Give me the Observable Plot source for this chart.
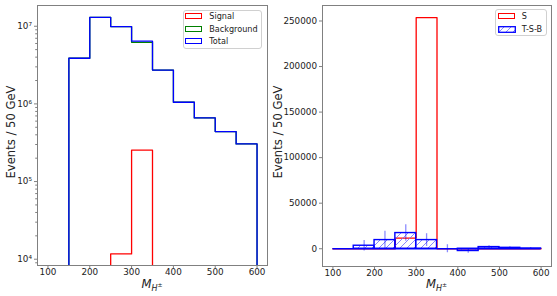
<!DOCTYPE html>
<html>
<head>
<meta charset="utf-8">
<script src="https://cdn.jsdelivr.net/npm/d3@7"></script>
<script src="https://cdn.jsdelivr.net/npm/@observablehq/plot@0.6"></script>
<style>
  html, body { margin: 0; padding: 0; background: #fff; }
  #wrap { position: relative; width: 557px; height: 296px; font-family: "DejaVu Sans", sans-serif; color: #222; overflow: hidden; }
  #wrap svg.plot { position: absolute; top: 0; overflow: visible; }
  .lg { position: absolute; border: 1px solid #d0d0d0; border-radius: 3px; background: rgba(255,255,255,0.85); box-sizing: border-box; }
  .patch { position: absolute; box-sizing: border-box; height: 6px; width: 17px; border-width: 1.3px; border-style: solid; }
  .lt { position: absolute; font-size: 8.1px; line-height: 10px; white-space: nowrap; }
  .xl { position: absolute; font-size: 11.6px; white-space: nowrap; transform: translate(-50%, -50%); }
  .yl { position: absolute; font-size: 11.6px; white-space: nowrap; transform: translate(-50%, -50%) rotate(-90deg); }
</style>
</head>
<body>
<svg width="0" height="0" style="position:absolute">
  <defs>
    <pattern id="hatch" patternUnits="userSpaceOnUse" width="7" height="7">
      <path d="M-1,1 l2,-2 M0,7 l7,-7 M6,8 l2,-2" stroke="#6b6bff" stroke-width="0.8"/>
    </pattern>
  </defs>
</svg>
<div id="wrap"></div>
<script>
// ---- data ----
const edges = [100, 150, 200, 250, 300, 350, 400, 450, 500, 550, 600];
const signal = [0, 0, 0, 11700, 253700, 0, 0, 0, 0, 0];
const background = [0, 3870000, 13000000, 9900000, 6200000, 2730000, 1050000, 660000, 440000, 305000];
const total = [0, 3870000, 13000000, 9910000, 6450000, 2730000, 1050000, 660000, 440000, 305000];
const tsb = [0, 3300, 9500, 17200, 9500, 0, -2500, 1800, 1000, 300];
const tsbErr = [0, 5800, 9700, 9100, 7000, 4400, 2500, 1600, 1100, 1100];
const xTicks = [100, 200, 300, 400, 500, 600];
const yLogTicks = [1e4, 1e5, 1e6, 1e7];
const yLinTicks = [0, 50000, 100000, 150000, 200000, 250000];
const yLabel = "Events / 50 GeV";

// ---- helpers ----
function stepPoints(vals, base, skipZeros) {
  let i0 = 0, i1 = vals.length - 1;
  if (skipZeros) { while (vals[i0] === 0) i0++; while (vals[i1] === 0) i1--; }
  const pts = [{x: edges[i0], y: base}];
  for (let i = i0; i <= i1; i++) pts.push({x: edges[i], y: vals[i]});
  pts.push({x: edges[i1 + 1], y: vals[i1]});
  pts.push({x: edges[i1 + 1], y: base});
  return pts;
}
const sup = {"0":"⁰","1":"¹","2":"²","3":"³","4":"⁴","5":"⁵","6":"⁶","7":"⁷","8":"⁸","9":"⁹","-":"⁻"};
const logFmt = d => "10" + String(Math.round(Math.log10(d))).split("").map(c => sup[c]).join("");
const minors = [];
for (let e = 3; e <= 7; e++) for (let m = 2; m <= 9; m++) minors.push(m * 10 ** e);
const bins = signal.map((_, i) => ({x1: edges[i], x2: edges[i + 1], xc: (edges[i] + edges[i + 1]) / 2, v: tsb[i], e: tsbErr[i]}));

const frameColor = "#808080";
const wrap = document.getElementById("wrap");

// ---- left panel (log) ----
const yDomLog = [8300, 1.85e7];
const left = Plot.plot({
  width: 270, height: 296,
  marginLeft: 37, marginRight: 3, marginTop: 5, marginBottom: 31,
  style: {fontFamily: "DejaVu Sans", fontSize: "8.8px", color: "#222", background: "transparent"},
  x: {domain: [75, 625]},
  y: {type: "log", domain: yDomLog},
  marks: [
    Plot.line(stepPoints(signal, 1, true), {x: "x", y: "y", curve: "step-after", stroke: "#ff0000", strokeWidth: 1.3, clip: true}),
    Plot.line(stepPoints(background, 1, true), {x: "x", y: "y", curve: "step-after", stroke: "#008000", strokeWidth: 1.3, clip: true}),
    Plot.line(stepPoints(total, 1, true), {x: "x", y: "y", curve: "step-after", stroke: "#0000ff", strokeWidth: 1.3, clip: true}),
    Plot.axisY(minors.filter(d => d >= yDomLog[0] && d <= yDomLog[1]), {tickSize: 1.8, tickFormat: () => "", stroke: frameColor, label: null}),
    Plot.axisY({ticks: yLogTicks, tickSize: 3, tickPadding: 2.5, tickFormat: logFmt, stroke: frameColor, label: null}),
    Plot.axisX({ticks: xTicks, tickSize: 3, tickPadding: 0.5, tickFormat: d => String(d), stroke: frameColor, label: null}),
    Plot.frame({stroke: frameColor, strokeWidth: 1})
  ]
});
left.classList.add("plot");
left.style.left = "0px";
wrap.appendChild(left);

// ---- right panel (linear) ----
const right = Plot.plot({
  width: 287, height: 296,
  marginLeft: 52, marginRight: 6, marginTop: 5, marginBottom: 30,
  style: {fontFamily: "DejaVu Sans", fontSize: "8.8px", color: "#222", background: "transparent"},
  x: {domain: [75, 625]},
  y: {domain: [-19500, 267000]},
  marks: [
    Plot.line(stepPoints(signal, 0, false), {x: "x", y: "y", curve: "step-after", stroke: "#ff0000", strokeWidth: 1.3}),
    Plot.rectY(bins.filter(d => d.v !== 0), {x1: "x1", x2: "x2", y1: 0, y2: "v", fill: "url(#hatch)", stroke: "#0000ff", strokeWidth: 1.4}),
    Plot.ruleY([0], {x1: edges[0], x2: edges[edges.length - 1], stroke: "#0000ff", strokeWidth: 1.4}),
    Plot.ruleX(bins.filter(d => d.e > 0), {x: "xc", y1: d => d.v - d.e, y2: d => d.v + d.e, stroke: "#0000ff", strokeOpacity: 0.45, strokeWidth: 1.3}),
    Plot.axisY({ticks: yLinTicks, tickSize: 3, tickPadding: 2.5, tickFormat: d => String(d), stroke: frameColor, label: null}),
    Plot.axisX({ticks: xTicks, tickSize: 3, tickPadding: 0.5, tickFormat: d => String(d), stroke: frameColor, label: null}),
    Plot.frame({stroke: frameColor, strokeWidth: 1})
  ]
});
right.classList.add("plot");
right.style.left = "270px";
wrap.appendChild(right);

// ---- labels & legends (HTML overlays) ----
function add(html) { const d = document.createElement("div"); d.innerHTML = html; wrap.appendChild(d.firstElementChild); }
const xlab = '<i>M</i><sub style="font-size:8px;vertical-align:-3px"><i>H</i><sup style="font-size:6px;vertical-align:4px">±</sup></sub>';
add(`<div class="xl" style="left:152px;top:285px">${xlab}</div>`);
add(`<div class="xl" style="left:436.5px;top:285px">${xlab}</div>`);
add(`<div class="yl" style="left:10.5px;top:132px">${yLabel}</div>`);
add(`<div class="yl" style="left:278px;top:132px">${yLabel}</div>`);

const legL = [["Signal", "#ff0000", "none"], ["Background", "#008000", "none"], ["Total", "#0000ff", "none"]];
add(`<div class="lg" style="left:182.5px;top:10px;width:79.5px;height:39px"></div>`);
legL.forEach(([t, c, f], i) => {
  const cy = 16.3 + i * 12.4;
  add(`<div class="patch" style="left:184.5px;top:${cy - 3}px;border-color:${c}"></div>`);
  add(`<div class="lt" style="left:209.3px;top:${cy - 5}px">${t}</div>`);
});
const legR = [["S", "#ff0000", false], ["T-S-B", "#0000ff", true]];
add(`<div class="lg" style="left:495px;top:9.3px;width:52px;height:27px"></div>`);
legR.forEach(([t, c, h], i) => {
  const cy = 16.3 + i * 12.6;
  if (h) {
    add(`<svg style="position:absolute;left:498.3px;top:${cy - 3.3}px" width="18" height="7"><rect x="0.7" y="0.7" width="16.6" height="5.6" fill="url(#hatch)" stroke="${c}" stroke-width="1.3"/></svg>`);
  } else {
    add(`<div class="patch" style="left:498.3px;top:${cy - 3}px;border-color:${c}"></div>`);
  }
  add(`<div class="lt" style="left:521.7px;top:${cy - 5}px">${t}</div>`);
});
</script>
</body>
</html>
